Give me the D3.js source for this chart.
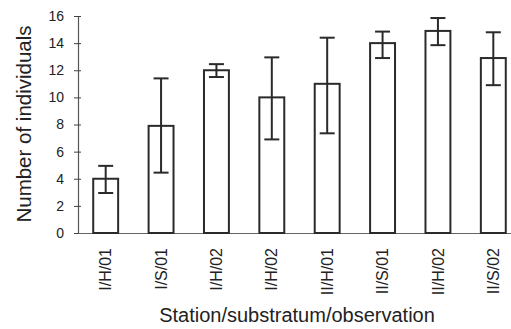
<!DOCTYPE html>
<html>
<head>
<meta charset="utf-8">
<script src="https://cdn.jsdelivr.net/npm/d3@7"></script>
<style>
  body { margin: 0; background: #fff; }
  text { font-family: "Liberation Sans", Arial, sans-serif; fill: #222; }
</style>
</head>
<body>
<div id="chart"></div>
<script>
// Data
const categories = ["I/H/01", "I/S/01", "I/H/02", "I/H/02", "II/H/01", "II/S/01", "II/H/02", "II/S/02"];
const means = [4, 7.9, 12, 10, 11, 14, 14.9, 12.9];
const lows  = [2.95, 4.45, 11.5, 6.9, 7.35, 12.9, 13.85, 10.9];
const highs = [4.95, 11.4, 12.45, 12.95, 14.4, 14.85, 15.85, 14.8];
const yTicks = [0, 2, 4, 6, 8, 10, 12, 14, 16];

const data = categories.map((c, i) => ({ key: i, label: c, mean: means[i], low: lows[i], high: highs[i] }));

const width = 511, height = 329;
const x0 = 78, x1 = 521, yTop = 16, yBase = 233;

const svg = d3.select("#chart").append("svg")
    .attr("width", width)
    .attr("height", height);

const xScale = d3.scaleBand()
    .domain(data.map(d => d.key))
    .range([x0, x1])
    .paddingInner(0.55)
    .paddingOuter(0.275);

const yScale = d3.scaleLinear()
    .domain([0, 16])
    .range([yBase, yTop]);

// y axis, ticks cross the axis line
svg.append("g")
    .attr("transform", `translate(${x0},0)`)
    .call(d3.axisLeft(yScale).tickValues(yTicks).tickSize(4).tickSizeOuter(0))
    .call(g => g.select(".domain").attr("stroke", "#555").attr("stroke-width", 1.2))
    .call(g => g.selectAll(".tick line").attr("x1", -4).attr("x2", 3).attr("stroke", "#444"))
    .call(g => g.selectAll(".tick text")
        .attr("x", -14)
        .attr("font-size", 14)
        .attr("font-family", "Liberation Sans, Arial, sans-serif")
        .attr("fill", "#222"));

// x axis (labels rotated)
svg.append("g")
    .attr("transform", `translate(0,${yBase})`)
    .call(d3.axisBottom(xScale).tickSize(0).tickFormat(i => categories[i]))
    .call(g => g.select(".domain").attr("stroke", "#666").attr("stroke-width", 1.2))
    .call(g => g.selectAll(".tick text")
        .attr("transform", "rotate(-90)")
        .attr("text-anchor", "end")
        .attr("x", -15)
        .attr("y", 0)
        .attr("dy", "0.35em")
        .attr("font-size", 16)
        .attr("font-family", "Liberation Sans, Arial, sans-serif")
        .attr("fill", "#222"));

// bars
svg.append("g").selectAll("rect")
    .data(data)
    .join("rect")
    .attr("x", d => xScale(d.key))
    .attr("y", d => yScale(d.mean))
    .attr("width", xScale.bandwidth())
    .attr("height", d => yBase - yScale(d.mean))
    .attr("fill", "#fff")
    .attr("stroke", "#2a2a2a")
    .attr("stroke-width", 2);

// error bars
const capW = 15;
const err = svg.append("g")
    .attr("stroke", "#2a2a2a")
    .attr("stroke-width", 2);

err.selectAll("line.v")
    .data(data)
    .join("line")
    .attr("class", "v")
    .attr("x1", d => xScale(d.key) + xScale.bandwidth() / 2)
    .attr("x2", d => xScale(d.key) + xScale.bandwidth() / 2)
    .attr("y1", d => yScale(d.low))
    .attr("y2", d => yScale(d.high));

err.selectAll("line.hi")
    .data(data)
    .join("line")
    .attr("class", "hi")
    .attr("x1", d => xScale(d.key) + xScale.bandwidth() / 2 - capW / 2)
    .attr("x2", d => xScale(d.key) + xScale.bandwidth() / 2 + capW / 2)
    .attr("y1", d => yScale(d.high))
    .attr("y2", d => yScale(d.high));

err.selectAll("line.lo")
    .data(data)
    .join("line")
    .attr("class", "lo")
    .attr("x1", d => xScale(d.key) + xScale.bandwidth() / 2 - capW / 2)
    .attr("x2", d => xScale(d.key) + xScale.bandwidth() / 2 + capW / 2)
    .attr("y1", d => yScale(d.low))
    .attr("y2", d => yScale(d.low));

// axis titles
svg.append("text")
    .attr("x", 297)
    .attr("y", 322)
    .attr("text-anchor", "middle")
    .attr("font-size", 20)
    .text("Station/substratum/observation");

svg.append("text")
    .attr("transform", "translate(31,124) rotate(-90)")
    .attr("text-anchor", "middle")
    .attr("font-size", 20.5)
    .text("Number of individuals");
</script>
</body>
</html>
